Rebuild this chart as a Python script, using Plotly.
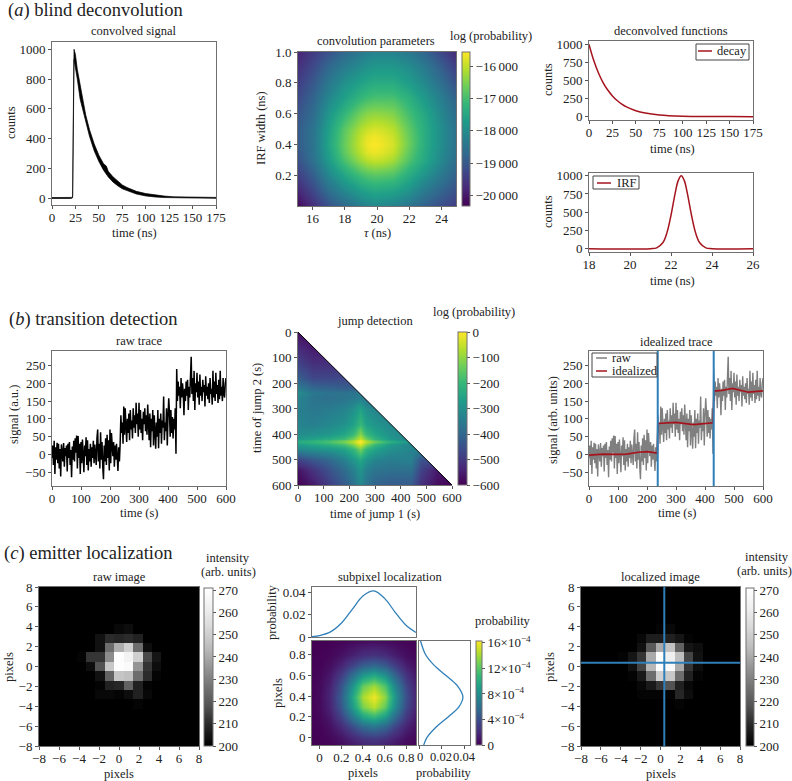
import plotly.graph_objects as go

# ---------- panel (a) ----------
conv_t = [0, 20, 21, 22, 22.5, 23, 23.5, 25, 27, 30, 33, 36, 40, 45, 50, 55, 58, 60, 65, 70, 75, 80, 90, 100, 110, 120, 130, 150, 175]
conv_hi = [3, 3, 4, 12, 220, 720, 1000, 965, 865, 760, 648, 558, 460, 364, 288, 230, 215, 180, 143, 113, 88, 71, 45, 30, 19, 13, 8, 5, 4]
conv_lo = [-3, -3, -2, 2, 120, 600, 930, 895, 800, 665, 597, 510, 415, 318, 245, 187, 160, 142, 108, 83, 62, 47, 27, 14, 7, 3, 1, -1, -2]

param_tau = [15, 16, 17, 18, 19, 19.4, 19.8, 20.3, 21, 22, 23, 24, 25]
param_width = [0, .1, .2, .3, .35, .4, .45, .5, .6, .7, .8, .9, 1.0]
param_logp = [
    [-20300, -19700, -19100, -18700, -18300, -18190, -18100, -18130, -18200, -18500, -18900, -19200, -19500],
    [-19900, -19300, -18600, -18100, -17700, -17590, -17500, -17530, -17600, -17900, -18400, -18800, -19200],
    [-19500, -18900, -18100, -17500, -17000, -16880, -16800, -16820, -16900, -17400, -17900, -18400, -18900],
    [-19200, -18550, -17700, -16900, -16250, -16050, -15950, -16000, -16200, -16900, -17500, -18100, -18700],
    [-19100, -18500, -17600, -16700, -16000, -15750, -15650, -15750, -15950, -16750, -17450, -18050, -18650],
    [-19000, -18500, -17500, -16650, -15900, -15650, -15560, -15640, -15850, -16650, -17400, -18000, -18600],
    [-19000, -18500, -17550, -16680, -15950, -15720, -15620, -15720, -15920, -16680, -17400, -18000, -18600],
    [-19000, -18500, -17600, -16750, -16100, -15930, -15820, -15880, -16050, -16750, -17400, -18000, -18600],
    [-19100, -18650, -17800, -17150, -16550, -16400, -16330, -16350, -16450, -17000, -17500, -18100, -18700],
    [-19300, -18800, -18100, -17600, -17150, -17030, -16950, -16950, -16950, -17300, -17800, -18300, -18900],
    [-19500, -19000, -18400, -17900, -17600, -17490, -17400, -17400, -17400, -17700, -18100, -18600, -19200],
    [-19700, -19250, -18700, -18300, -18000, -17880, -17800, -17800, -17800, -18000, -18400, -18900, -19500],
    [-19900, -19500, -19100, -18700, -18400, -18280, -18200, -18200, -18200, -18400, -18800, -19300, -19800],
]
param_ticks = [-16000, -17000, -18000, -19000, -20000]
param_labels = ["\u221216\u2009000", "\u221217\u2009000", "\u221218\u2009000", "\u221219\u2009000", "\u221220\u2009000"]

decay_t = [0, 5, 10, 15, 20, 25, 30, 35, 40, 50, 60, 75, 100, 125, 150, 175]
decay_v = [1000, 780, 607, 472, 368, 287, 223, 174, 135, 82, 50, 24, 7, 2, 1, 0]

irf_t = [18, 21, 21.3, 21.6, 21.8, 22, 22.2, 22.35, 22.5, 22.65, 22.8, 23, 23.2, 23.4, 23.7, 24, 26]
irf_v = [0, 0, 11, 80, 216, 458, 755, 932, 1000, 932, 755, 458, 216, 80, 11, 0, 0]

# ---------- panel (b) ----------
trace_dt = 2.5
trace_v = [
    -10, 25, -30, 38, -55, 20, -15, 33, -25, 30,
    -40, 15, -62, 28, 5, -20, 32, -35, 18, -5,
    25, -48, 30, -10, 35, -30, 12, -64, 22, -15,
    38, -20, 45, 5, 53, -40, 52, -10, 30, -55,
    35, -25, 42, 10, -50, 25, -5, 48, -30, 40,
    -45, 15, -20, 30, -35, 20, -10, 38, -25, 28,
    5, -30, 45, 70, -20, 30, -40, 62, -15, 35,
    -35, -70, 25, -20, 45, -30, 55, -10, 40, -45,
    70, -25, 60, 10, -5, 35, -35, 25, -15, 30,
    -30, -47, 20, -20,
    30, 110, 60, 90, 30, 135, 55, 130, 80, 35,
    100, 60, 115, 40, 125, 70, 95, 45, 130, 75,
    110, 60, 145, 85, 115, 50, 145, 70, 125, 60,
    100, 40, 120, 85, 130, 65, 110, 55, 140, 90,
    40, 115, 20, 100, 65, 125, 25, 110, 70, 16,
    90, 50, 125, 17, 100, 60, 115, 30, 95, 75,
    163, 40, 90, 65, 130, 25, 105, 158, 120, 50,
    125, 60, 105, 45, 100, 70, 130, 2,
    240, 150, 205, 165, 190, 130, 215, 160, 200, 175,
    110, 185, 150, 205, 165, 210, 125, 190, 160, 230,
    275, 170, 215, 150, 235, 125, 200, 175, 230, 160,
    205, 140, 225, 165, 190, 150, 210, 175, 195, 135,
    220, 165, 190, 155, 200, 145, 215, 170, 185, 140,
    235, 160, 205, 150, 230, 170, 195, 145, 210, 155,
    235, 165, 190, 150, 215, 170, 160, 200, 215,
]

ideal_t = [0, 50, 100, 130, 170, 200, 225, 236, 238, 300, 360, 428, 431, 460, 495, 550, 600]
ideal_v = [-2, 1, 0, 1, 6, 8, 5, 3, 87, 90, 84, 89, 178, 180, 186, 175, 179]
jump_times = [237, 430]

jump_x = [0, 60, 120, 180, 215, 232, 240, 248, 265, 300, 360, 420, 440, 480, 540, 600]
jump_y = [0, 60, 120, 180, 220, 240, 260, 300, 360, 400, 418, 425, 430, 435, 442, 460, 500, 540, 600]
jump_logp = [
    [-580] * 16,
    [-530, -560] + [-560] * 14,
    [-480, -520] + [-520] * 14,
    [-420, -470] + [-470] * 14,
    [-350, -400, -410, -420] + [-420] * 12,
    [-310, -360, -370, -370, -365, -360, -355, -360] + [-360] * 8,
    [-330, -370, -380, -370, -355, -345, -340, -345, -370] + [-370] * 7,
    [-340, -360, -350, -330, -300, -270, -255, -270, -300, -330] + [-330] * 6,
    [-330, -340, -320, -300, -260, -220, -200, -220, -260, -290, -320] + [-320] * 5,
    [-310, -300, -285, -250, -200, -140, -110, -140, -200, -250, -300, -320] + [-320] * 4,
    [-280, -255, -230, -190, -130, -70, -50, -70, -130, -210, -280, -320] + [-320] * 4,
    [-250, -225, -195, -150, -90, -30, -15, -30, -90, -170, -250, -300] + [-305] * 4,
    [-235, -210, -175, -125, -65, -15, 0, -15, -65, -135, -220, -270, -290, -290, -290, -290],
    [-250, -225, -195, -150, -90, -30, -15, -30, -90, -170, -250, -300] + [-305] * 4,
    [-280, -255, -230, -190, -130, -70, -50, -70, -130, -210, -280, -320] + [-320] * 4,
    [-320, -300, -285, -255, -205, -150, -125, -150, -205, -255, -300, -320, -330, -330, -330, -330],
    [-480, -440, -400, -340, -290, -260, -245, -260, -290, -330, -350, -340, -340, -450, -450, -450],
    [-570, -510, -450, -390, -340, -305, -290, -305, -340, -370, -380, -380, -380, -480, -560, -560],
    [-600, -560, -490, -430, -380, -335, -320, -335, -370, -410, -430, -430, -430, -520, -580, -600],
]
mask_x = [0, 600, 600, 0]
mask_y = [0, 0, 600, 0]
jump_ticks = [0, -100, -200, -300, -400, -500, -600]

# ---------- panel (c) ----------
pixel_x = [-7.529, -6.588, -5.647, -4.706, -3.765, -2.824, -1.882, -0.941, 0, 0.941, 1.882, 2.824, 3.765, 4.706, 5.647, 6.588, 7.529]
raw_image = [  # bottom row first
    [200] * 17,
    [200] * 17,
    [200] * 17,
    [200] * 17,
    [200, 200, 200, 200, 200, 200, 200, 200, 200, 200, 201, 200, 200, 200, 200, 200, 200],
    [200, 200, 200, 200, 200, 200, 202, 202, 201, 203, 208, 202, 200, 200, 200, 200, 200],
    [200, 200, 200, 200, 200, 200, 201, 208, 209, 222, 208, 201, 200, 200, 200, 200, 200],
    [200, 200, 200, 200, 200, 200, 204, 222, 247, 245, 225, 210, 201, 200, 200, 200, 200],
    [200, 200, 200, 200, 200, 203, 218, 248, 270, 268, 235, 212, 203, 200, 200, 200, 200],
    [200, 200, 200, 200, 201, 212, 212, 233, 270, 264, 250, 216, 205, 200, 200, 200, 200],
    [200, 200, 200, 200, 200, 200, 204, 225, 241, 250, 225, 203, 200, 200, 200, 200, 200],
    [200, 200, 200, 200, 200, 200, 204, 210, 209, 210, 208, 200, 200, 200, 200, 200, 200],
    [200, 200, 200, 200, 200, 200, 200, 200, 202, 203, 200, 200, 200, 200, 200, 200, 200],
    [200] * 17,
    [200] * 17,
    [200] * 17,
    [200] * 17,
]
loc_image = [  # bottom row first
    [200] * 17,
    [200] * 17,
    [200] * 17,
    [200] * 17,
    [200, 200, 200, 200, 200, 200, 200, 200, 200, 200, 201, 200, 200, 200, 200, 200, 200],
    [200, 200, 200, 200, 200, 200, 201, 201, 201, 201, 209, 203, 200, 200, 200, 200, 200],
    [200, 200, 200, 200, 200, 200, 202, 206, 212, 218, 208, 202, 200, 200, 200, 200, 200],
    [200, 200, 200, 200, 200, 201, 206, 225, 250, 248, 225, 208, 201, 200, 200, 200, 200],
    [200, 200, 200, 200, 200, 204, 215, 243, 270, 268, 240, 212, 203, 200, 200, 200, 200],
    [200, 200, 200, 200, 201, 205, 212, 240, 270, 262, 245, 215, 204, 200, 200, 200, 200],
    [200, 200, 200, 200, 200, 200, 204, 220, 240, 246, 222, 205, 203, 200, 200, 200, 200],
    [200, 200, 200, 200, 200, 200, 202, 207, 207, 208, 205, 201, 200, 200, 200, 200, 200],
    [200, 200, 200, 200, 200, 200, 200, 200, 201, 202, 200, 200, 200, 200, 200, 200, 200],
    [200] * 17,
    [200] * 17,
    [200] * 17,
    [200] * 17,
]
emitter_pos = [0.38, 0.38]
cross_span = [-8, 8]
image_ticks = [-8, -6, -4, -2, 0, 2, 4, 6, 8]
intensity_ticks = [200, 210, 220, 230, 240, 250, 260, 270]

sub_x = [-0.07, 0, .1, .2, .3, .4, .5, .6, .7, .8, .89]
sub_y = [-0.07, 0, .1, .2, .3, .39, .5, .6, .7, .8, .93]
sub_px = [.0004, .0013, .0045, .0122, .0244, .0365, .041, .0344, .0217, .0102, .0040]
sub_py = [.0042, .0070, .0150, .0259, .0356, .0390, .0340, .0237, .0131, .0058, .0014]
sub_prob = [
    [.02, .05, .19, .53, 1.04, 1.57, 1.76, 1.48, .93, .44, .18],
    [.03, .09, .32, .86, 1.70, 2.56, 2.88, 2.42, 1.53, .72, .29],
    [.06, .18, .68, 1.85, 3.63, 5.48, 6.16, 5.17, 3.26, 1.54, .62],
    [.11, .32, 1.17, 3.19, 6.27, 9.46, 10.62, 8.92, 5.63, 2.66, 1.06],
    [.15, .44, 1.61, 4.38, 8.61, 12.99, 14.59, 12.26, 7.73, 3.65, 1.46],
    [.16, .48, 1.76, 4.8, 9.44, 14.24, 16, 13.44, 8.48, 4.0, 1.6],
    [.14, .42, 1.53, 4.19, 8.23, 12.42, 13.95, 11.72, 7.39, 3.49, 1.40],
    [.10, .29, 1.07, 2.91, 5.73, 8.64, 9.71, 8.16, 5.15, 2.43, .97],
    [.05, .16, .59, 1.61, 3.17, 4.78, 5.38, 4.52, 2.85, 1.34, .54],
    [.02, .07, .26, .72, 1.41, 2.12, 2.38, 2.00, 1.26, .60, .24],
    [.01, .02, .06, .17, .34, .51, .58, .48, .31, .14, .06],
]
sub_ticks = [0, 4, 8, 12, 16]
sub_labels = ["0", "4\u00d710<sup>\u22124</sup>", "8\u00d710<sup>\u22124</sup>", "12\u00d710<sup>\u22124</sup>", "16\u00d710<sup>\u22124</sup>"]

# ---------- style ----------
W, H = 792, 781
FONT = "Liberation Serif"
TEXT = "#222222"
FRAME = "#707070"
RED = "#a5141d"
BLUE = "#2f7fb8"
TICK_SIZE = 13

fig = go.Figure()
layout = {}


def fx(px):
    return px / W


def fy(py):
    return 1 - py / H


def axes(n, box, xr, yr, xticks=None, yticks=None, xlabels=True, ylabels=True, frame=True):
    x0, x1, y0, y1 = box
    s = "" if n == 1 else str(n)
    common = dict(showgrid=False, zeroline=False, ticks="outside", ticklen=3, tickwidth=1,
                  tickcolor="#555555", linecolor=FRAME, linewidth=1, showline=True, tickangle=0,
                  mirror=frame, tickfont=dict(family=FONT, size=TICK_SIZE, color=TEXT))
    layout[f"xaxis{s}"] = dict(domain=[fx(x0), fx(x1)], range=xr, anchor=f"y{s}", tickmode="array",
                               tickvals=xticks or [], showticklabels=xlabels, ticklabelstandoff=-3, **common)
    layout[f"yaxis{s}"] = dict(domain=[fy(y1), fy(y0)], range=yr, anchor=f"x{s}", tickmode="array",
                               tickvals=yticks or [], showticklabels=ylabels, **common)
    return f"x{s}", f"y{s}"


def cbar(box, ticks, labels=None, size=TICK_SIZE):
    x0, x1, y0, y1 = box
    d = dict(x=fx(x0), xanchor="left", xref="paper", y=fy(y1), yanchor="bottom", yref="paper",
             len=(y1 - y0) / H, lenmode="fraction", thickness=x1 - x0, thicknessmode="pixels",
             xpad=0, ypad=0, outlinewidth=1, outlinecolor=FRAME, ticks="outside", ticklen=3,
             tickcolor="#555555", tickmode="array", tickvals=ticks,
             tickfont=dict(family=FONT, size=size, color=TEXT))
    if labels:
        d["ticktext"] = labels
    return d


# (a1) convolved signal
xa, ya = axes(1, (52, 216, 42, 205), [0, 175], [-47, 1049], [0, 25, 50, 75, 100, 125, 150, 175], [0, 200, 400, 600, 800, 1000])
fig.add_trace(go.Scatter(x=conv_t + conv_t[::-1], y=conv_hi + conv_lo[::-1], mode="lines", fill="toself",
                         fillcolor="black", line=dict(color="black", width=0.7), xaxis=xa, yaxis=ya, showlegend=False))

# (a2) convolution parameters
xa, ya = axes(2, (298, 456, 52, 206), [15.1, 24.9], [0, 1], [16, 18, 20, 22, 24], [.2, .4, .6, .8, 1.0])
layout["yaxis2"]["ticktext"] = ["0.2", "0.4", "0.6", "0.8", "1.0"]
fig.add_trace(go.Heatmap(x=param_tau, y=param_width, z=param_logp, zsmooth="best", colorscale="Viridis",
                         zmin=-20340, zmax=-15540, xaxis=xa, yaxis=ya,
                         colorbar=cbar((462, 470, 52, 206), param_ticks, param_labels)))

# (a3) decay
xa, ya = axes(3, (589, 753, 41, 120), [0, 175], [-46, 1046], [0, 25, 50, 75, 100, 125, 150, 175], [0, 250, 500, 750, 1000])
fig.add_trace(go.Scatter(x=decay_t, y=decay_v, mode="lines", line=dict(color=RED, width=1.5, shape="spline"),
                         xaxis=xa, yaxis=ya, showlegend=False))

# (a4) IRF
xa, ya = axes(4, (589, 753, 173, 252), [18, 26], [-46, 1037], [18, 20, 22, 24, 26], [0, 250, 500, 750, 1000])
fig.add_trace(go.Scatter(x=irf_t, y=irf_v, mode="lines", line=dict(color=RED, width=1.5, shape="spline"),
                         xaxis=xa, yaxis=ya, showlegend=False))

# (b1) raw trace
trace_t = [i * trace_dt for i in range(len(trace_v))]
xa, ya = axes(5, (52, 226, 351, 486), [0, 600], [-89, 291], [0, 100, 200, 300, 400, 500, 600], [-50, 0, 50, 100, 150, 200, 250])
fig.add_trace(go.Scatter(x=trace_t, y=trace_v, mode="lines", line=dict(color="black", width=1.5), xaxis=xa, yaxis=ya, showlegend=False))

# (b2) jump detection
xa, ya = axes(6, (298, 452, 332, 485), [0, 600], [600, 0], [0, 100, 200, 300, 400, 500, 600], [0, 100, 200, 300, 400, 500, 600], frame=False)
fig.add_trace(go.Heatmap(x=jump_x, y=jump_y, z=jump_logp, zsmooth="best", colorscale="Viridis", zmin=-600, zmax=0,
                         xaxis=xa, yaxis=ya, colorbar=cbar((458, 467, 332, 485), jump_ticks)))
fig.add_trace(go.Scatter(x=mask_x, y=mask_y, mode="none", fill="toself", fillcolor="white", xaxis=xa, yaxis=ya, showlegend=False))
fig.add_trace(go.Scatter(x=mask_x[:1] + mask_x[2:3], y=mask_y[:1] + mask_y[2:3], mode="lines", line=dict(color="black", width=1),
                         xaxis=xa, yaxis=ya, showlegend=False))

# (b3) idealized trace
xa, ya = axes(7, (589, 763, 351, 486), [0, 600], [-89, 291], [0, 100, 200, 300, 400, 500, 600], [-50, 0, 50, 100, 150, 200, 250])
fig.add_trace(go.Scatter(x=trace_t, y=trace_v, mode="lines", line=dict(color="#7f7f7f", width=1.4), xaxis=xa, yaxis=ya, showlegend=False))
fig.add_trace(go.Scatter(x=ideal_t, y=ideal_v, mode="lines", line=dict(color=RED, width=1.7), xaxis=xa, yaxis=ya, showlegend=False))
for jt in jump_times:
    fig.add_trace(go.Scatter(x=[jt, jt], y=[-89, 291], mode="lines", line=dict(color=BLUE, width=2), xaxis=xa, yaxis=ya, showlegend=False))

# (c1) raw image
xa, ya = axes(8, (39, 199, 587, 746), [-8, 8], [-8, 8], image_ticks, image_ticks)
fig.add_trace(go.Heatmap(x=pixel_x, y=pixel_x, z=raw_image, colorscale="Greys_r", zmin=200, zmax=271, xaxis=xa, yaxis=ya,
                         colorbar=cbar((204, 213, 588, 746), intensity_ticks)))

# (c2) subpixel localization
xa, ya = axes(9, (312, 416, 587, 637), [-0.07, 0.89], [0, 0.0445], [], [0, 0.02, 0.04], xlabels=False)
layout["xaxis9"]["ticks"] = ""
fig.add_trace(go.Scatter(x=sub_x, y=sub_px, mode="lines", line=dict(color=BLUE, width=1.3, shape="spline"), xaxis=xa, yaxis=ya, showlegend=False))
xa, ya = axes(10, (312, 416, 641, 745), [-0.07, 0.89], [-0.07, 0.93], [0, .2, .4, .6, .8], [0, .2, .4, .6, .8])
fig.add_trace(go.Heatmap(x=sub_x, y=sub_y, z=sub_prob, zsmooth="best", colorscale="Viridis", zmin=0, zmax=16.3, xaxis=xa, yaxis=ya,
                         colorbar=cbar((476, 482, 641, 745), sub_ticks, sub_labels)))
xa, ya = axes(11, (419, 470, 641, 745), [0, 0.0453], [-0.07, 0.93], [0, 0.02, 0.04], [], xlabels=False, ylabels=False)
layout["yaxis11"]["ticks"] = ""
fig.add_trace(go.Scatter(x=sub_py, y=sub_y, mode="lines", line=dict(color=BLUE, width=1.3, shape="spline"), xaxis=xa, yaxis=ya, showlegend=False))

# (c3) localized image
xa, ya = axes(12, (581, 740, 587, 746), [-8, 8], [-8, 8], image_ticks, image_ticks)
fig.add_trace(go.Heatmap(x=pixel_x, y=pixel_x, z=loc_image, colorscale="Greys_r", zmin=200, zmax=271, xaxis=xa, yaxis=ya,
                         colorbar=cbar((746, 754, 588, 746), intensity_ticks)))
fig.add_trace(go.Scatter(x=[emitter_pos[0]] * 2, y=cross_span, mode="lines", line=dict(color=BLUE, width=2), xaxis=xa, yaxis=ya, showlegend=False))
fig.add_trace(go.Scatter(x=cross_span, y=[emitter_pos[1]] * 2, mode="lines", line=dict(color=BLUE, width=2), xaxis=xa, yaxis=ya, showlegend=False))

# ---------- text ----------
heads = [("(<i>a</i>) blind deconvolution", 6, 11), ("(<i>b</i>) transition detection", 7, 319), ("(<i>c</i>) emitter localization", 2, 553)]
labels = [
    ("convolved signal", 134, 31, 0), ("time (ns)", 134, 233, 0), ("counts", 11, 123, -90),
    ("convolution parameters", 376, 41, 0), ("log (probability)", 491, 36, 0), ("<i>\u03c4</i> (ns)", 377, 233, 0), ("IRF width (ns)", 261, 128, -90),
    ("deconvolved functions", 671, 31, 0), ("time (ns)", 672, 149, 0), ("counts", 548, 80, -90),
    ("time (ns)", 672, 281, 0), ("counts", 548, 212, -90),
    ("raw trace", 139, 341, 0), ("time (s)", 139, 513, 0), ("signal (a.u.)", 14, 415, -90),
    ("jump detection", 375, 321, 0), ("log (probability)", 474, 312, 0), ("time of jump 1 (s)", 375, 514, 0), ("time of jump 2 (s)", 257, 408, -90),
    ("idealized trace", 676, 342, 0), ("time (s)", 677, 513, 0), ("signal (arb. units)", 553, 420, -90),
    ("raw image", 119, 577, 0), ("intensity", 228, 558, 0), ("(arb. units)", 228, 572, 0), ("pixels", 119, 774, 0), ("pixels", 9, 667, -90),
    ("subpixel localization", 390, 577, 0), ("probability", 503, 621, 0), ("pixels", 363, 773, 0), ("probability", 444, 773, 0),
    ("pixels", 278, 693, -90), ("probability", 272, 612, -90),
    ("localized image", 660, 577, 0), ("intensity", 767, 557, 0), ("(arb. units)", 764, 571, 0), ("pixels", 661, 774, 0), ("pixels", 550, 667, -90),
    ("0", 420, 757, 0), ("0.02", 441, 757, 0), ("0.04", 464, 757, 0),
]
# legends: label, frame box, line sample (x0, x1, y), text left edge
legend_boxes = [
    ((696, 749, 44, 60), [("decay", RED, 698, 712, 51, 715)]),
    ((593, 639, 176, 189), [("IRF", RED, 597, 611, 183, 615)]),
    ((592, 657, 353, 377), [("raw", "#7f7f7f", 596, 607, 358, 610), ("idealized", RED, 596, 607, 371, 610)]),
]
ann = []
for text, px, py in heads:
    ann.append(dict(text=text, x=fx(px), y=fy(py), xref="paper", yref="paper", xanchor="left", yanchor="middle",
                    showarrow=False, font=dict(family=FONT, size=18.5, color=TEXT)))
for text, px, py, rot in labels:
    ann.append(dict(text=text, x=fx(px), y=fy(py), xref="paper", yref="paper", xanchor="center", yanchor="middle",
                    textangle=rot, showarrow=False, font=dict(family=FONT, size=12.5, color=TEXT)))
shapes = []
for (x0, x1, y0, y1), items in legend_boxes:
    shapes.append(dict(type="rect", xref="paper", yref="paper", x0=fx(x0), x1=fx(x1), y0=fy(y1), y1=fy(y0),
                       line=dict(color="#444444", width=1), fillcolor="white", layer="above"))
    for text, color, lx0, lx1, ly, tx in items:
        shapes.append(dict(type="line", xref="paper", yref="paper", x0=fx(lx0), x1=fx(lx1), y0=fy(ly), y1=fy(ly),
                           line=dict(color=color, width=1.5), layer="above"))
        ann.append(dict(text=text, x=fx(tx), y=fy(ly), xref="paper", yref="paper", xanchor="left", yanchor="middle",
                        showarrow=False, font=dict(family=FONT, size=12.5, color=TEXT)))

fig.update_layout(
    width=W, height=H, margin=dict(l=0, r=0, t=0, b=0, autoexpand=False), paper_bgcolor="white", plot_bgcolor="white",
    annotations=ann, shapes=shapes, showlegend=False,
    **layout,
)
fig.write_html("out.html", config={"displayModeBar": False},
               post_script="document.body.style.margin='0';document.body.style.overflow='hidden';")
